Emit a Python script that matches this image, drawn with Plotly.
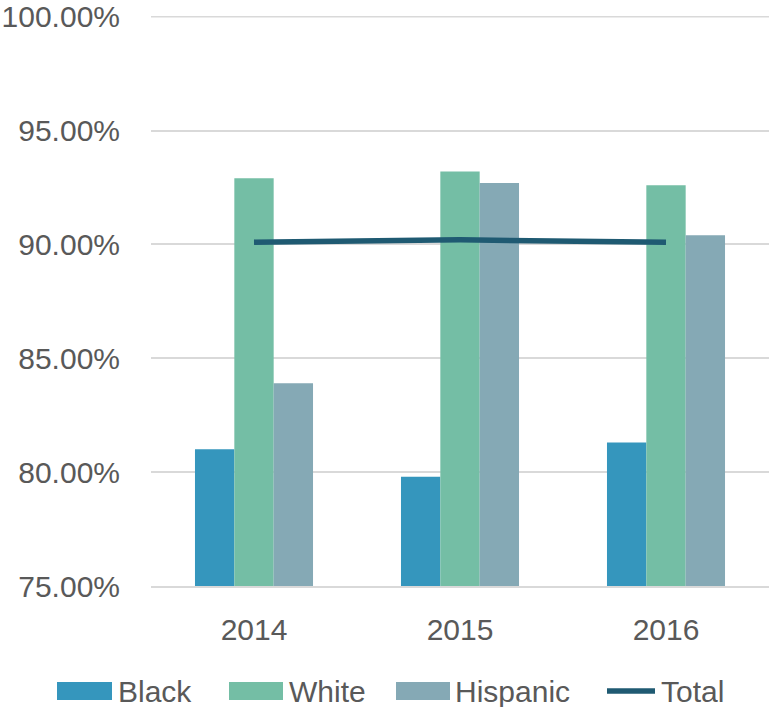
import plotly.graph_objects as go

years = ["2014", "2015", "2016"]
black = [81.0, 79.8, 81.3]
white = [92.9, 93.2, 92.6]
hispanic = [83.9, 92.7, 90.4]
total = [90.1, 90.2, 90.1]
y_ticks = [0.75, 0.80, 0.85, 0.90, 0.95, 1.0]

series_names = ["Black", "White", "Hispanic", "Total"]
series_colors = ["#3596BD", "#74BEA5", "#85A9B5", "#1F5A72"]

FONT = "Liberation Sans, Arial, sans-serif"
W, H = 769, 707
L, R, T, B = 151, 0, 16, 121

fig = go.Figure()
for name, vals, col in zip(series_names[:3], [black, white, hispanic], series_colors[:3]):
    fig.add_bar(x=years, y=[v / 100 for v in vals], name=name, marker_color=col,
                marker_line_width=0)
fig.add_scatter(x=years, y=[v / 100 for v in total], name="Total", mode="lines",
                line=dict(color=series_colors[3], width=5.5))

fig.update_layout(
    width=W, height=H,
    margin=dict(l=L, r=R, t=T, b=B, autoexpand=False),
    plot_bgcolor="white", paper_bgcolor="white",
    barmode="group", bargap=0.427, bargroupgap=0,
    font=dict(family=FONT, size=30, color="#595959"),
    showlegend=False,
)
fig.update_yaxes(range=[y_ticks[0], y_ticks[-1] + 0.0003], tickvals=y_ticks,
                 tickformat=".2%", automargin=False,
                 gridcolor="#D9D9D9", gridwidth=1.5, zeroline=False,
                 showline=False, ticks="", ticklabelstandoff=30)
fig.update_xaxes(showline=True, linecolor="#D9D9D9", linewidth=1.5, ticks="",
                 automargin=False, ticklabelstandoff=16)
# top gridline near the edge of the range
fig.add_shape(type="line", xref="paper", yref="y", x0=0, x1=1,
              y0=y_ticks[-1], y1=y_ticks[-1], line=dict(color="#D9D9D9", width=1.5),
              layer="below")

pw = W - L - R
ph = H - T - B

def to_paper_x(x):
    return (x - L) / pw

def to_paper_y(y):
    return (H - B - y) / ph

legend_items = [
    (series_names[0], series_colors[0], 57, 112, 116, "box"),
    (series_names[1], series_colors[1], 229, 283, 287, "box"),
    (series_names[2], series_colors[2], 396, 450, 453, "box"),
    (series_names[3], series_colors[3], 604, 658, 659, "line"),
]
ly = 691
for name, col, x0, x1, tx, kind in legend_items:
    if kind == "box":
        fig.add_shape(type="rect", xref="paper", yref="paper",
                      x0=to_paper_x(x0), x1=to_paper_x(x1),
                      y0=to_paper_y(ly + 9), y1=to_paper_y(ly - 9),
                      fillcolor=col, line_width=0)
    else:
        fig.add_shape(type="line", xref="paper", yref="paper",
                      x0=to_paper_x(x0 + 3), x1=to_paper_x(x1 - 3),
                      y0=to_paper_y(ly), y1=to_paper_y(ly),
                      line=dict(color=col, width=5.5))
    fig.add_annotation(xref="paper", yref="paper", x=to_paper_x(tx), y=to_paper_y(ly),
                       xanchor="left", yanchor="middle", text=name, showarrow=False,
                       font=dict(family=FONT, size=30, color="#595959"))

fig.write_html("out.html", config={"displayModeBar": False},
               post_script="document.body.style.margin='0';document.body.style.overflow='hidden';")
